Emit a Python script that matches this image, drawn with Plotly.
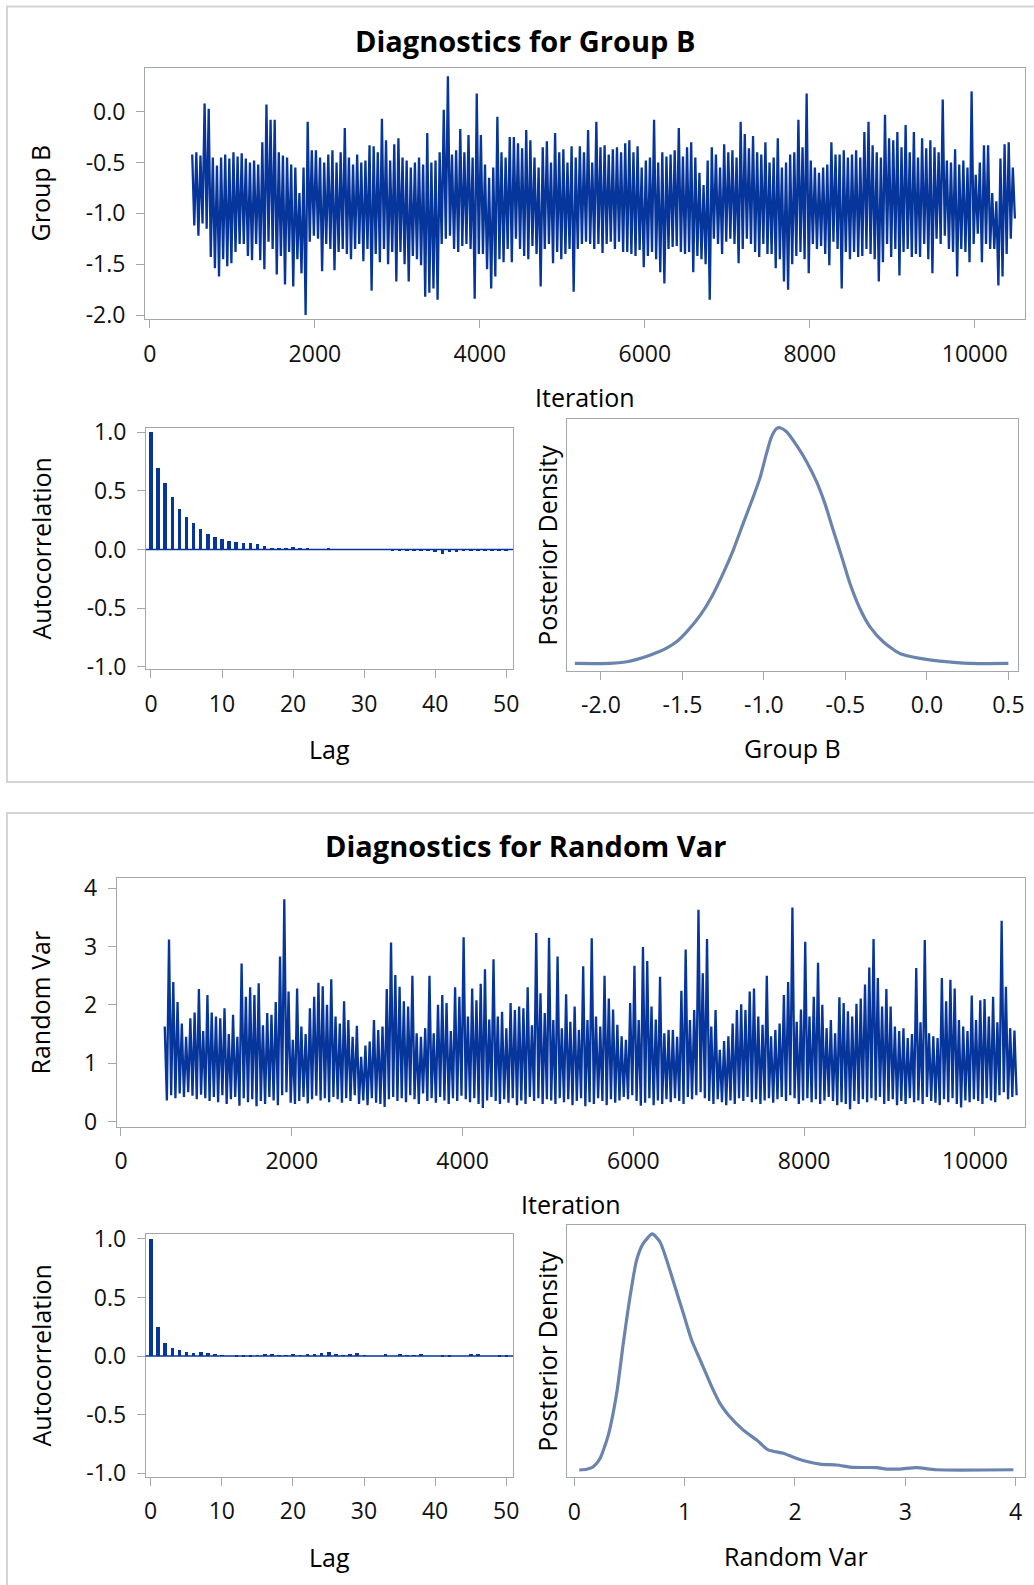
import plotly.graph_objects as go

# ---------------- data ----------------
ITER_START = 500          # first retained iteration (after burn-in)
ITER_BIN = 50             # trace thinned into 50-iteration bins: peak / trough per bin

groupb_peak = [
    -0.42, -0.40, -0.43, 0.08, 0.03, -0.45, -0.53, -0.45, -0.42, -0.46,
    -0.40, -0.44, -0.41, -0.46, -0.50, -0.48, -0.52, -0.30, 0.07, -0.08,
    -0.08, -0.40, -0.43, -0.45, -0.52, -0.55, -0.80, -0.55, -0.10, -0.38,
    -0.38, -0.45, -0.50, -0.42, -0.38, -0.50, -0.40, -0.16, -0.45, -0.52,
    -0.42, -0.50, -0.48, -0.33, -0.34, -0.40, -0.07, -0.28, -0.48, -0.32,
    -0.26, -0.45, -0.48, -0.55, -0.50, -0.45, -0.52, -0.21, -0.50, -0.48,
    -0.40, 0.02, 0.35, -0.42, -0.38, -0.17, -0.40, -0.23, -0.45, 0.18,
    -0.23, -0.52, -0.65, -0.55, -0.05, -0.40, -0.45, -0.25, -0.25, -0.31,
    -0.36, -0.18, -0.28, -0.45, -0.55, -0.35, -0.29, -0.50, -0.21, -0.40,
    -0.37, -0.50, -0.34, -0.45, -0.34, -0.40, -0.18, -0.50, -0.10, -0.35,
    -0.33, -0.42, -0.37, -0.35, -0.40, -0.31, -0.28, -0.40, -0.34, -0.55,
    -0.48, -0.45, -0.08, -0.50, -0.40, -0.44, -0.42, -0.38, -0.16, -0.44,
    -0.35, -0.30, -0.45, -0.60, -0.72, -0.48, -0.35, -0.42, -0.55, -0.32,
    -0.40, -0.38, -0.45, -0.10, -0.22, -0.36, -0.24, -0.40, -0.42, -0.30,
    -0.50, -0.45, -0.26, -0.55, -0.50, -0.42, -0.40, -0.08, -0.35, 0.18,
    -0.48, -0.55, -0.60, -0.55, -0.52, -0.30, -0.42, -0.42, -0.38, -0.45,
    -0.42, -0.38, -0.45, -0.20, -0.10, -0.33, -0.40, -0.45, -0.03, -0.26,
    -0.28, -0.20, -0.35, -0.13, -0.40, -0.20, -0.45, -0.26, -0.36, -0.28,
    -0.35, -0.40, 0.12, -0.48, -0.50, -0.37, -0.52, -0.48, -0.55, 0.20,
    -0.62, -0.50, -0.33, -0.33, -0.80, -0.88, -0.46, -0.32, -0.30, -0.55,
]
groupb_trough = [
    -1.12, -1.22, -1.10, -1.15, -1.43, -1.54, -1.62, -1.45, -1.52, -1.49,
    -1.38, -1.30, -1.30, -1.42, -1.46, -1.30, -1.46, -1.55, -1.28, -1.35,
    -1.60, -1.42, -1.70, -1.38, -1.72, -1.45, -1.59, -2.00, -1.28, -1.22,
    -1.25, -1.57, -1.30, -1.35, -1.56, -1.38, -1.35, -1.40, -1.45, -1.35,
    -1.30, -1.47, -1.35, -1.76, -1.40, -1.48, -1.35, -1.50, -1.38, -1.67,
    -1.38, -1.50, -1.67, -1.42, -1.45, -1.51, -1.82, -1.78, -1.74, -1.85,
    -1.30, -1.25, -1.22, -1.35, -1.38, -1.32, -1.30, -1.35, -1.84, -1.40,
    -1.40, -1.55, -1.74, -1.62, -1.45, -1.48, -1.35, -1.48, -1.25, -1.35,
    -1.42, -1.45, -1.32, -1.40, -1.72, -1.35, -1.30, -1.49, -1.38, -1.45,
    -1.40, -1.35, -1.77, -1.35, -1.30, -1.28, -1.30, -1.35, -1.30, -1.39,
    -1.30, -1.28, -1.35, -1.28, -1.38, -1.38, -1.40, -1.42, -1.36, -1.53,
    -1.42, -1.38, -1.45, -1.58, -1.69, -1.35, -1.33, -1.32, -1.38, -1.40,
    -1.38, -1.58, -1.42, -1.45, -1.50, -1.85, -1.25, -1.30, -1.40, -1.28,
    -1.25, -1.30, -1.49, -1.35, -1.25, -1.30, -1.38, -1.43, -1.30, -1.40,
    -1.40, -1.54, -1.45, -1.67, -1.75, -1.50, -1.42, -1.38, -1.45, -1.59,
    -1.30, -1.35, -1.32, -1.40, -1.51, -1.28, -1.35, -1.74, -1.38, -1.45,
    -1.38, -1.43, -1.42, -1.35, -1.40, -1.45, -1.67, -1.48, -1.30, -1.43,
    -1.35, -1.61, -1.38, -1.35, -1.43, -1.40, -1.43, -1.30, -1.45, -1.59,
    -1.25, -1.30, -1.22, -1.35, -1.38, -1.62, -1.35, -1.38, -1.48, -1.30,
    -1.20, -1.48, -1.30, -1.35, -1.35, -1.71, -1.62, -1.40, -1.25, -1.05,
]

randvar_peak = [
    1.63, 3.12, 2.39, 2.05, 1.68, 1.45, 1.77, 1.87, 2.27, 1.55,
    2.17, 1.87, 1.80, 1.77, 1.94, 1.50, 1.83, 1.45, 2.71, 2.14,
    2.30, 2.17, 2.37, 1.65, 1.86, 1.83, 2.05, 2.83, 3.81, 2.23,
    1.40, 2.28, 1.63, 1.50, 1.94, 2.14, 2.38, 2.32, 2.00, 2.44,
    1.80, 1.68, 2.06, 1.74, 1.45, 1.64, 1.11, 1.30, 1.37, 1.74,
    1.57, 1.63, 2.27, 3.07, 2.51, 2.31, 2.06, 1.97, 2.50, 1.51,
    1.45, 1.60, 2.50, 1.51, 2.00, 2.17, 2.03, 1.55, 2.30, 2.14,
    3.16, 1.80, 2.28, 2.08, 2.36, 2.61, 1.75, 2.78, 1.80, 1.88,
    1.60, 2.03, 1.91, 1.97, 1.94, 2.30, 1.65, 3.23, 2.20, 1.86,
    3.15, 1.74, 2.83, 1.60, 2.18, 1.71, 1.97, 1.57, 2.66, 1.74,
    3.14, 1.80, 1.63, 2.50, 2.11, 1.92, 1.66, 1.46, 1.40, 2.03,
    2.67, 1.74, 2.99, 2.75, 1.97, 1.75, 2.48, 1.51, 1.57, 1.57,
    1.45, 2.24, 2.95, 1.74, 1.91, 3.63, 2.54, 3.13, 1.63, 1.91,
    1.23, 1.38, 1.46, 1.68, 1.91, 2.01, 1.91, 2.23, 2.28, 1.80,
    1.66, 2.50, 1.46, 1.57, 1.68, 2.17, 2.39, 3.67, 1.71, 1.92,
    3.08, 1.80, 2.14, 2.72, 2.00, 1.60, 1.74, 1.51, 2.13, 2.03,
    1.89, 1.80, 2.02, 2.11, 2.35, 2.64, 3.13, 2.46, 1.97, 2.27,
    1.97, 1.63, 1.55, 1.60, 1.43, 1.50, 2.63, 1.70, 3.11, 1.51,
    1.46, 1.43, 2.46, 2.06, 2.43, 2.28, 1.74, 1.63, 1.55, 2.16,
    1.74, 2.08, 2.10, 1.80, 2.14, 1.70, 3.44, 2.31, 1.60, 1.56,
]
randvar_trough = [
    0.36, 0.45, 0.40, 0.48, 0.42, 0.50, 0.44, 0.38, 0.46, 0.40,
    0.35, 0.42, 0.33, 0.45, 0.30, 0.38, 0.42, 0.27, 0.40, 0.33,
    0.38, 0.26, 0.35, 0.30, 0.42, 0.36, 0.28, 0.45, 0.50, 0.32,
    0.30, 0.35, 0.42, 0.31, 0.38, 0.44, 0.36, 0.40, 0.33, 0.42,
    0.38, 0.32, 0.40, 0.35, 0.45, 0.30, 0.36, 0.28, 0.40, 0.32,
    0.30, 0.25, 0.38, 0.42, 0.35, 0.40, 0.33, 0.45, 0.38, 0.30,
    0.48, 0.35, 0.40, 0.32, 0.42, 0.36, 0.30, 0.40, 0.35, 0.44,
    0.38, 0.33, 0.40, 0.30, 0.23, 0.36, 0.42, 0.35, 0.30, 0.38,
    0.32, 0.40, 0.28, 0.36, 0.30, 0.42, 0.35, 0.40, 0.30, 0.38,
    0.36, 0.30, 0.40, 0.33, 0.38, 0.28, 0.35, 0.40, 0.26, 0.33,
    0.30, 0.40, 0.35, 0.28, 0.38, 0.32, 0.36, 0.42, 0.38, 0.45,
    0.35, 0.27, 0.32, 0.40, 0.28, 0.36, 0.30, 0.38, 0.33, 0.40,
    0.35, 0.30, 0.42, 0.38, 0.45, 0.50, 0.40, 0.35, 0.30, 0.38,
    0.33, 0.28, 0.36, 0.30, 0.40, 0.35, 0.42, 0.33, 0.38, 0.30,
    0.36, 0.40, 0.32, 0.38, 0.42, 0.35, 0.45, 0.40, 0.30, 0.36,
    0.40, 0.33, 0.38, 0.30, 0.36, 0.42, 0.35, 0.28, 0.33, 0.30,
    0.21, 0.35, 0.30, 0.38, 0.33, 0.40, 0.36, 0.42, 0.30, 0.35,
    0.38, 0.28, 0.35, 0.30, 0.40, 0.33, 0.36, 0.30, 0.42, 0.35,
    0.32, 0.28, 0.38, 0.33, 0.40, 0.30, 0.24, 0.36, 0.33, 0.38,
    0.35, 0.30, 0.40, 0.36, 0.33, 0.45, 0.50, 0.38, 0.42, 0.45,
]

lags = list(range(0, 51))
groupb_acf = [
    1.0, 0.699, 0.565, 0.452, 0.349, 0.281, 0.222, 0.173, 0.136, 0.108,
    0.088, 0.074, 0.060, 0.054, 0.054, 0.043, 0.026, 0.011, 0.005, 0.008,
    0.020, 0.010, 0.012, 0.003, 0.002, 0.008, 0.001, 0.0, 0.001, 0.0,
    0.0, -0.001, 0.0, -0.002, -0.005, -0.015, -0.015, -0.012, -0.015, -0.015,
    -0.020, -0.040, -0.025, -0.020, -0.015, -0.012, -0.012, -0.010, -0.012, -0.012,
    -0.005,
]
randvar_acf = [
    1.0, 0.248, 0.111, 0.068, 0.048, 0.031, 0.028, 0.034, 0.023, 0.014,
    0.003, 0.0, -0.005, -0.012, -0.006, 0.006, 0.018, 0.015, 0.005, 0.002,
    0.012, 0.006, 0.008, 0.012, 0.020, 0.033, 0.008, 0.005, 0.016, 0.020,
    0.004, 0.0, 0.0, 0.010, 0.0, 0.010, 0.006, 0.006, 0.010, 0.0,
    0.0, -0.006, -0.004, 0.0, 0.0, 0.012, 0.012, 0.0, 0.0, -0.004,
    -0.004,
]

groupb_grid = [-2.16, -1.945, -1.84, -1.78, -1.70, -1.60, -1.536, -1.474, -1.39, -1.32,
               -1.25, -1.188, -1.127, -1.065, -1.025, -0.984, -0.953, -0.922, -0.902, -0.861,
               -0.80, -0.738, -0.677, -0.626, -0.575, -0.523, -0.472, -0.411, -0.35, -0.268,
               -0.166, -0.043, 0.08, 0.264, 0.50]
groupb_density = [0.0, 0.0, 0.007, 0.017, 0.035, 0.064, 0.092, 0.134, 0.205, 0.283,
                  0.382, 0.481, 0.594, 0.707, 0.785, 0.891, 0.962, 0.997, 1.0, 0.983,
                  0.926, 0.856, 0.771, 0.679, 0.566, 0.453, 0.339, 0.233, 0.156, 0.092,
                  0.042, 0.021, 0.010, 0.0, 0.0]

randvar_grid = [0.045, 0.112, 0.172, 0.233, 0.308, 0.384, 0.444, 0.505, 0.565, 0.625,
                0.707, 0.776, 0.837, 0.912, 0.988, 1.063, 1.154, 1.245, 1.32, 1.396,
                1.532, 1.653, 1.758, 1.894, 2.015, 2.227, 2.378, 2.529, 2.74, 2.83,
                2.95, 3.10, 3.28, 3.98]
randvar_density = [0.0, 0.003, 0.014, 0.049, 0.148, 0.325, 0.537, 0.734, 0.89, 0.96,
                   1.0, 0.967, 0.89, 0.777, 0.664, 0.551, 0.452, 0.353, 0.282, 0.233,
                   0.169, 0.127, 0.085, 0.071, 0.049, 0.025, 0.021, 0.011, 0.010, 0.004,
                   0.004, 0.010, 0.001, 0.001]

iter_ticks = [0, 2000, 4000, 6000, 8000, 10000]
iter_ticktext = ["0", "2000", "4000", "6000", "8000", "10000"]
groupb_ticks = [-2.0, -1.5, -1.0, -0.5, 0.0]
groupb_ticktext = ["-2.0", "-1.5", "-1.0", "-0.5", "0.0"]
groupb_dens_ticks = [-2.0, -1.5, -1.0, -0.5, 0.0, 0.5]
groupb_dens_ticktext = ["-2.0", "-1.5", "-1.0", "-0.5", "0.0", "0.5"]
acf_ticks = [-1.0, -0.5, 0.0, 0.5, 1.0]
acf_ticktext = ["-1.0", "-0.5", "0.0", "0.5", "1.0"]
lag_ticks = [0, 10, 20, 30, 40, 50]
randvar_ticks = [0, 1, 2, 3, 4]

# ---------------- style ----------------
W, H = 1034, 1585
FONT = "Open Sans"
TRACE_COLOR = "#06359b"
DENS_COLOR = "#6a84ae"
FRAME = "#a4a8ac"
PANEL = "#d4d4d4"
TICK_SIZE = 23
LABEL_SIZE = 25
TITLE_SIZE = 29
TRACE_WIDTH = 2.3


def dom_x(a, b):
    return [a / W, b / W]


def dom_y(top, bottom):
    return [1 - bottom / H, 1 - top / H]


def zigzag(peaks, troughs):
    xs, ys = [], []
    for j, (p, t) in enumerate(zip(peaks, troughs)):
        base = ITER_START + ITER_BIN * j
        xs += [base + ITER_BIN * 0.25, base + ITER_BIN * 0.75]
        ys += [p, t]
    return xs, ys


fig = go.Figure()

gx, gy = zigzag(groupb_peak, groupb_trough)
fig.add_trace(go.Scatter(x=gx, y=gy, mode="lines",
                         line=dict(color=TRACE_COLOR, width=TRACE_WIDTH, simplify=False),
                         xaxis="x", yaxis="y", showlegend=False))
fig.add_trace(go.Bar(x=lags, y=groupb_acf, width=0.5, marker=dict(color=TRACE_COLOR, line=dict(width=0)),
                     xaxis="x2", yaxis="y2", showlegend=False))
fig.add_trace(go.Scatter(x=groupb_grid, y=groupb_density, mode="lines",
                         line=dict(color=DENS_COLOR, width=3.2, shape="spline", smoothing=0.6),
                         xaxis="x3", yaxis="y3", showlegend=False))

rx, ry = zigzag(randvar_peak, randvar_trough)
fig.add_trace(go.Scatter(x=rx, y=ry, mode="lines",
                         line=dict(color=TRACE_COLOR, width=TRACE_WIDTH, simplify=False),
                         xaxis="x4", yaxis="y4", showlegend=False))
fig.add_trace(go.Bar(x=lags, y=randvar_acf, width=0.5, marker=dict(color=TRACE_COLOR, line=dict(width=0)),
                     xaxis="x5", yaxis="y5", showlegend=False))
fig.add_trace(go.Scatter(x=randvar_grid, y=randvar_density, mode="lines",
                         line=dict(color=DENS_COLOR, width=3.2, shape="spline", smoothing=0.6),
                         xaxis="x6", yaxis="y6", showlegend=False))

base_axis = dict(showline=True, linecolor=FRAME, linewidth=1, mirror=True, ticks="outside", ticklen=8,
                 tickcolor=FRAME, tickwidth=1, showgrid=False, zeroline=False, fixedrange=True,
                 automargin=False, tickfont=dict(family=FONT, size=TICK_SIZE, color="#111111"))


def ax(**kw):
    d = dict(base_axis)
    d.update(kw)
    return d


layout = dict(
    template="none",
    width=W, height=H, autosize=False, margin=dict(l=0, r=0, t=0, b=0, pad=0),
    paper_bgcolor="white", plot_bgcolor="white", showlegend=False, bargap=0,
    xaxis=ax(domain=dom_x(145, 1025), range=[-60, 10610], tickvals=iter_ticks, ticktext=iter_ticktext,
             anchor="y", ticklabelstandoff=6),
    yaxis=ax(domain=dom_y(67.7, 319.3), range=[-2.042, 0.433], tickvals=groupb_ticks, ticktext=groupb_ticktext,
             anchor="x", ticklabelstandoff=6),
    xaxis2=ax(domain=dom_x(146, 513), range=[-0.7, 50.95], tickvals=lag_ticks, anchor="y2", ticklabelstandoff=6),
    yaxis2=ax(domain=dom_y(428, 669), range=[-1.02, 1.037], tickvals=acf_ticks, ticktext=acf_ticktext,
              anchor="x2", ticklabelstandoff=6),
    xaxis3=ax(domain=dom_x(566.7, 1018.3), range=[-2.21, 0.561], tickvals=groupb_dens_ticks,
              ticktext=groupb_dens_ticktext, anchor="y3", ticklabelstandoff=6),
    yaxis3=ax(domain=dom_y(419, 670.7), range=[-0.031, 1.037], ticks="", showticklabels=False, anchor="x3"),
    xaxis4=ax(domain=dom_x(116.7, 1025), range=[-50, 10586], tickvals=iter_ticks, ticktext=iter_ticktext,
              anchor="y4", ticklabelstandoff=6),
    yaxis4=ax(domain=dom_y(878.3, 1126.7), range=[-0.09, 4.17], tickvals=randvar_ticks, anchor="x4",
              ticklabelstandoff=6),
    xaxis5=ax(domain=dom_x(145.7, 513), range=[-0.7, 50.95], tickvals=lag_ticks, anchor="y5", ticklabelstandoff=6),
    yaxis5=ax(domain=dom_y(1234.3, 1476.7), range=[-1.03, 1.04], tickvals=acf_ticks, ticktext=acf_ticktext,
              anchor="x5", ticklabelstandoff=6),
    xaxis6=ax(domain=dom_x(566.7, 1025), range=[-0.069, 4.085], tickvals=randvar_ticks, anchor="y6",
              ticklabelstandoff=6),
    yaxis6=ax(domain=dom_y(1225, 1477.3), range=[-0.031, 1.038], ticks="", showticklabels=False, anchor="x6"),
)

shapes = [
    dict(type="rect", xref="paper", yref="paper", x0=7 / W, x1=1.02, y0=1 - 782 / H, y1=1 - 6.5 / H,
         line=dict(color=PANEL, width=2), fillcolor="rgba(0,0,0,0)", layer="below"),
    dict(type="rect", xref="paper", yref="paper", x0=7 / W, x1=1.02, y0=-0.02, y1=1 - 813 / H,
         line=dict(color=PANEL, width=2), fillcolor="rgba(0,0,0,0)", layer="below"),
    dict(type="line", xref="x2 domain", yref="y2", x0=0, x1=1, y0=0, y1=0, line=dict(color=TRACE_COLOR, width=1.5)),
    dict(type="line", xref="x5 domain", yref="y5", x0=0, x1=1, y0=0, y1=0, line=dict(color=TRACE_COLOR, width=1.5)),
]
layout["shapes"] = shapes


def label(text, px, py, size=LABEL_SIZE, angle=0, bold=False):
    return dict(text=f"<b>{text}</b>" if bold else text, x=px / W, y=1 - py / H, xref="paper", yref="paper",
                xanchor="center", yanchor="middle", showarrow=False, textangle=angle,
                font=dict(family=FONT, size=size, color="#000000"))


layout["annotations"] = [
    label("Diagnostics for Group B", 525, 41, TITLE_SIZE, bold=True),
    label("Group B", 40, 193.5, angle=-90),
    label("Iteration", 585, 397),
    label("Autocorrelation", 40, 548.5, angle=-90),
    label("Lag", 329.5, 749),
    label("Posterior Density", 546.7, 545, angle=-90),
    label("Group B", 792.5, 748),
    label("Diagnostics for Random Var", 525.6, 846, TITLE_SIZE, bold=True),
    label("Random Var", 40, 1002.5, angle=-90),
    label("Iteration", 570.8, 1204),
    label("Autocorrelation", 40, 1355.5, angle=-90),
    label("Lag", 329.5, 1556.7),
    label("Posterior Density", 546.7, 1351, angle=-90),
    label("Random Var", 795.8, 1556),
]

fig.update_layout(**layout)
fig.write_html("out.html")
